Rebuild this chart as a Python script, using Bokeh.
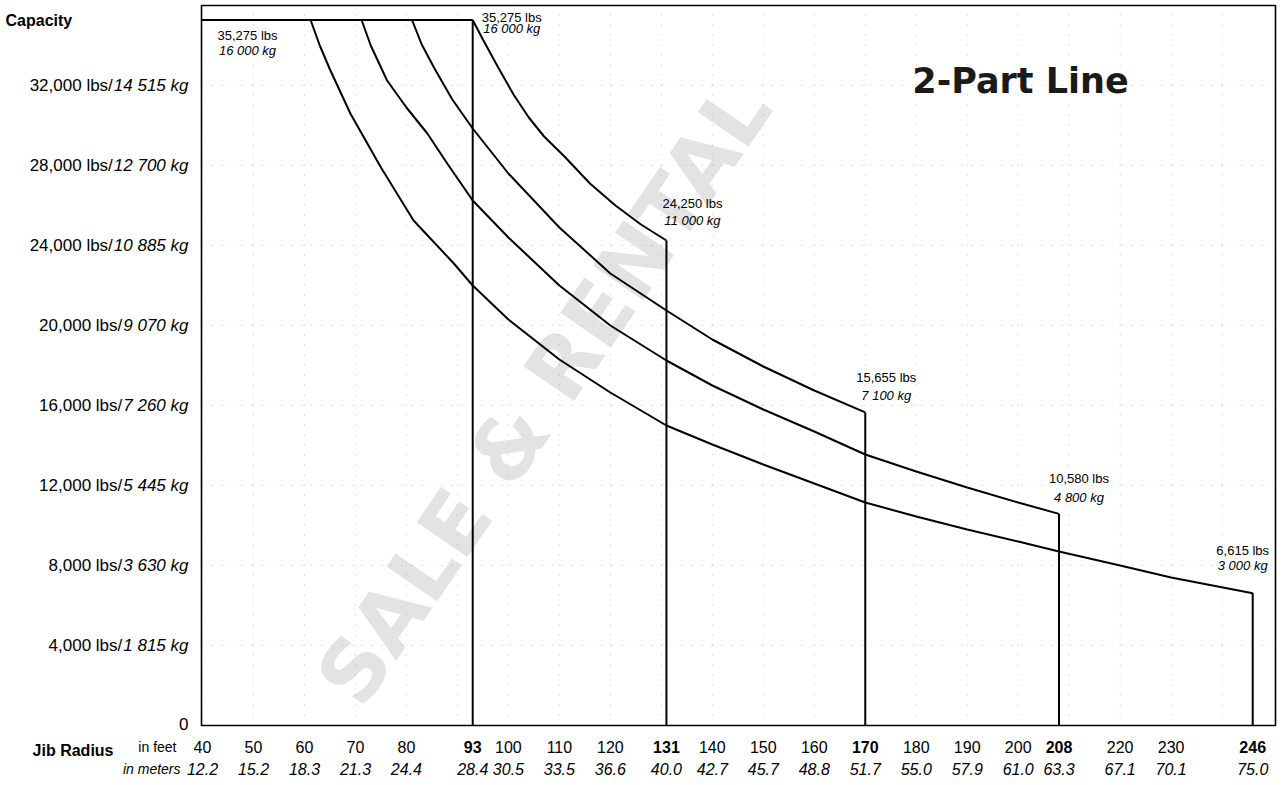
from bokeh.plotting import figure
from bokeh.models import Range1d, Label
from bokeh.embed import file_html
from bokeh.resources import INLINE

# ---------------- data ----------------
MAX_CAP_LBS = 35275
MAX_CAP_LBS_TXT = "35,275 lbs"
MAX_CAP_KG_TXT = "16 000 kg"

# jib lengths (ft) and tip capacities
jib_ft = [93, 131, 170, 208, 246]
tip_lbs = [35275, 24250, 15655, 10580, 6615]
tip_lbs_txt = ["35,275 lbs", "24,250 lbs", "15,655 lbs", "10,580 lbs", "6,615 lbs"]
tip_kg_txt = ["16 000 kg", "11 000 kg", "7 100 kg", "4 800 kg", "3 000 kg"]

# load curves (radius ft, capacity lbs)
c131_r = [93, 95, 98, 101, 104, 107, 111, 116, 121, 126, 131]
c131_c = [35275, 34300, 32900, 31550, 30400, 29450, 28450, 27100, 26000, 25050, 24250]

c170_r = [81.1, 83, 85.4, 89, 93, 100, 110, 120, 131, 140, 150, 160, 170]
c170_c = [35275, 34050, 32900, 31300, 29850, 27600, 24900, 22600, 20750, 19300, 17950,
          16750, 15655]

c208_r = [71.2, 73, 76.2, 80, 84.1, 88, 93, 100, 110, 120, 131, 140, 150, 160, 170, 180,
          190, 200, 208]
c208_c = [35275, 34000, 32250, 30900, 29600, 28100, 26250, 24400, 22000, 20000, 18250,
          17000, 15800, 14700, 13550, 12700, 11900, 11150, 10580]

c246_r = [61.2, 63, 65, 69, 75, 81.4, 89.3, 93, 100, 110, 120, 131, 140, 150, 160, 170,
          180, 190, 200, 208, 220, 230, 246]
c246_c = [35275, 34000, 32800, 30600, 27900, 25250, 23100, 22000, 20300, 18300, 16650,
          15000, 14050, 13050, 12100, 11150, 10450, 9800, 9200, 8700, 8000, 7400, 6615]

# axis ticks
x_ticks_ft = [40, 50, 60, 70, 80, 93, 100, 110, 120, 131, 140, 150, 160, 170, 180, 190,
              200, 208, 220, 230, 246]
x_ticks_m = ["12.2", "15.2", "18.3", "21.3", "24.4", "28.4", "30.5", "33.5", "36.6", "40.0",
             "42.7", "45.7", "48.8", "51.7", "55.0", "57.9", "61.0", "63.3", "67.1", "70.1", "75.0"]
y_ticks = [4000, 8000, 12000, 16000, 20000, 24000, 28000, 32000]
y_lbs_txt = ["4,000 lbs/", "8,000 lbs/", "12,000 lbs/", "16,000 lbs/", "20,000 lbs/",
             "24,000 lbs/", "28,000 lbs/", "32,000 lbs/"]
y_kg_txt = ["1 815 kg", "3 630 kg", "5 445 kg", "7 260 kg", "9 070 kg", "10 885 kg",
            "12 700 kg", "14 515 kg"]
grid_x = [40, 50, 60, 70, 80, 90, 100, 110, 120, 130, 140, 150, 160, 170, 180, 190, 200,
          210, 220, 230, 240]

# ---------------- layout (pixels) ----------------
W, H = 1284, 782
FR_L, FR_R, FR_T, FR_B = 201, 1275, 5, 725      # plot box on the canvas
X0 = 39.8                                        # feet at the left edge of the box
PX_FT = 5.098
X1 = X0 + (FR_R - FR_L) / PX_FT
PX_LB = 20.0 / 1000.0
TOP = (FR_B - FR_T) / PX_LB

FONT = "Liberation Sans"
EM = {" ": 0.278, ",": 0.278, ".": 0.278, "/": 0.278, "k": 0.5, "g": 0.556,
      "l": 0.222, "b": 0.556, "s": 0.5}


def text_w(s, size):
    return sum(EM.get(ch, 0.556) for ch in s) * size


p = figure(width=W, height=H,
           x_range=Range1d(X0 - FR_L / PX_FT, X1 + (W - FR_R) / PX_FT),
           y_range=Range1d(-(H - FR_B) / PX_LB, FR_B / PX_LB),
           output_backend="svg", toolbar_location=None,
           min_border=0, min_border_left=0, min_border_right=0, min_border_top=0,
           min_border_bottom=0)
p.xaxis.visible = False
p.yaxis.visible = False
p.grid.visible = False
p.outline_line_color = None
p.background_fill_color = "white"
p.border_fill_color = "white"


def lab(x, y, text, dx=0, dy=0, size=15, style="normal", align="center", font=FONT,
        color="black", **kw):
    p.add_layout(Label(x=x, y=y, x_offset=dx, y_offset=dy, text=text, text_align=align,
                       text_baseline="middle", text_font=font, text_font_style=style,
                       text_font_size=f"{size}px", text_color=color, **kw))


# watermark
lab(107, 16600, "SALE & RENTAL", size=84, style="bold", font="DejaVu Sans",
    color="#e3e3e3", angle=0.97, level="image")

# dotted grid inside the box
p.segment(x0=grid_x, y0=[0] * len(grid_x), x1=grid_x, y1=[TOP] * len(grid_x),
          line_color="#777777", line_alpha=0.45, line_dash="1 9", line_width=1)
p.segment(x0=[X0] * len(y_ticks), y0=y_ticks, x1=[X1] * len(y_ticks), y1=y_ticks,
          line_color="#777777", line_alpha=0.45, line_dash="1 9", line_width=1)

# plot box
p.quad(left=[X0], right=[X1], bottom=[0], top=[TOP], fill_color=None,
       line_color="black", line_width=1.6)

# curves
for r, c in ((c131_r, c131_c), (c170_r, c170_c), (c208_r, c208_c), (c246_r, c246_c)):
    p.line(r, c, line_color="black", line_width=2)

# max capacity plateau and jib end verticals
p.line([X0, jib_ft[0]], [MAX_CAP_LBS, MAX_CAP_LBS], line_color="black", line_width=2)
p.segment(x0=jib_ft, y0=[0] * len(jib_ft), x1=jib_ft, y1=tip_lbs, line_color="black",
          line_width=2)

# tip labels
dx = [39, 26, 21, 20, -10]
dy1 = [3, 37, 35, 35, 43]
dy2 = [-8, 20, 17, 16, 28]
for i in range(len(jib_ft)):
    lab(jib_ft[i], tip_lbs[i], tip_lbs_txt[i], dx[i], dy1[i], size=13)
    lab(jib_ft[i], tip_lbs[i], tip_kg_txt[i], dx[i], dy2[i], size=13, style="italic")
lab(X0, MAX_CAP_LBS, MAX_CAP_LBS_TXT, 46, -15, size=13)
lab(X0, MAX_CAP_LBS, MAX_CAP_KG_TXT, 46, -30, size=13, style="italic")

# title
lab(X0, TOP, "2-Part Line", 819, -75, size=35, style="bold", font="DejaVu Sans",
    color="#1a1a1a")

# y tick labels
YS = 17
for v, lt, kt in zip(y_ticks, y_lbs_txt, y_kg_txt):
    lab(X0, v, kt, -13, 0, size=YS, style="italic", align="right")
    lab(X0, v, lt, -14 - text_w(kt, YS), 0, size=YS, align="right")
lab(X0, 0, "0", -13, 2, size=YS, align="right")
lab(X0, TOP, "Capacity", -196, -15, size=16, style="bold", align="left")

# x tick labels
for ft, m in zip(x_ticks_ft, x_ticks_m):
    lab(ft, 0, str(ft), 0, -21, size=16, style="bold" if ft in jib_ft else "normal")
    lab(ft, 0, m, 0, -43, size=16, style="italic")
lab(X0, 0, "Jib Radius", -88, -25, size=16, style="bold", align="right")
lab(X0, 0, "in feet", -25, -21, size=14, align="right")
lab(X0, 0, "in meters", -21, -43, size=14, style="italic", align="right")

open("out.html", "w").write(file_html(p, INLINE))
